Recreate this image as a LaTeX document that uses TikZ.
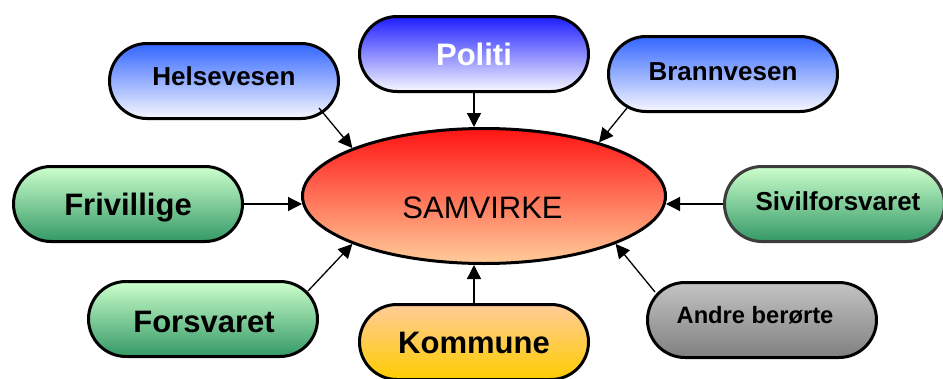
\documentclass[tikz,border=0pt]{standalone}
\usepackage{fontspec}
\setmainfont{Liberation Sans}
\usetikzlibrary{shapes.geometric,arrows.meta}
\definecolor{blueTop}{RGB}{51,102,255}
\definecolor{blueDeep}{RGB}{30,30,255}
\definecolor{blueLow}{RGB}{248,248,255}
\definecolor{greenTop}{RGB}{204,255,204}
\definecolor{greenLow}{RGB}{51,153,102}
\definecolor{redTop}{RGB}{255,20,20}
\definecolor{peach}{RGB}{255,204,153}
\definecolor{gold}{RGB}{255,204,0}
\definecolor{greyTop}{RGB}{195,195,195}
\definecolor{greyLow}{RGB}{128,128,128}
\definecolor{darkEdge}{RGB}{60,60,60}
\begin{document}
\begin{tikzpicture}[x=1pt,y=-1pt,
  box/.style={draw=black,line width=3pt,rounded corners=37.5pt,minimum width=229pt,minimum height=75pt,inner sep=0pt},
  bluebox/.style={box,top color=blueTop,bottom color=blueLow},
  greenbox/.style={box,top color=greenTop,bottom color=greenLow},
  lbl/.style={anchor=base,font=\bfseries,inner sep=0pt},
  conn/.style={line width=1.3pt,-{Triangle[length=14pt,width=14pt]}}]
\useasboundingbox (0,0) rectangle (943,378);
% centre
\node[ellipse,draw=black,line width=3pt,minimum width=363pt,minimum height=135pt,inner sep=0pt,top color=redTop,bottom color=peach] (samv) at (484,196) {};
% boxes
\node[bluebox] (helse) at (224,81) {};
\node[box,top color=blueDeep,bottom color=blueLow] (politi) at (474,54) {};
\node[bluebox] (brann) at (723,74) {};
\node[greenbox] (friv) at (128,204) {};
\node[greenbox] (forsv) at (203,319) {};
\node[greenbox,draw=darkEdge,minimum width=220pt] (sivil) at (834.5,204) {};
\node[box,top color=greyTop,bottom color=greyLow] (andre) at (762,320) {};
\node[box,top color=peach,bottom color=gold] (komm) at (474,342) {};
% connector start points
\coordinate (hsA) at (319,108);
\coordinate (brA) at (627,108);
\coordinate (foA) at (308,291);
\coordinate (anA) at (655,292);
% connectors
\draw[conn] (hsA) -- (samv.160);
\draw[conn] (politi.south) -- (politi.south |- samv.north);
\draw[conn] (brA) -- (samv.25.7);
\draw[conn] (friv.east) -- ([xshift=1pt]friv.east -| samv.west);
\draw[conn] (sivil.west) -- ([xshift=-1pt]sivil.west -| samv.east);
\draw[conn] (foA) -- (samv.200.6);
\draw[conn] (anA) -- (samv.-20.9);
\draw[conn] (komm.north) -- (komm.north |- samv.south);
% labels
\node[lbl,font=\fontsize{26pt}{30pt}\selectfont\bfseries] (helseT) at (224,85) {Helsevesen};
\node[lbl,text=white,font=\fontsize{31pt}{36pt}\selectfont\bfseries] (politiT) at (474,65) {Politi};
\node[lbl,font=\fontsize{26pt}{30pt}\selectfont\bfseries] (brannT) at (723,80) {Brannvesen};
\node[lbl,font=\fontsize{31pt}{36pt}\selectfont\bfseries] (frivT) at (128,215) {Frivillige};
\node[lbl,font=\fontsize{31pt}{36pt}\selectfont\bfseries] (forsvT) at (204,332) {Forsvaret};
\node[lbl,font=\fontsize{26pt}{30pt}\selectfont\bfseries] (sivilT) at (838,210) {Sivilforsvaret};
\node[lbl,font=\fontsize{23.7pt}{28pt}\selectfont\bfseries] (andreT) at (755,323) {Andre berørte};
\node[lbl,font=\fontsize{31pt}{36pt}\selectfont\bfseries] (kommT) at (474,353) {Kommune};
\node[anchor=base,inner sep=0pt,font=\fontsize{31pt}{36pt}\selectfont] (samvT) at (482.5,218) {SAMVIRKE};
\end{tikzpicture}
\end{document}
